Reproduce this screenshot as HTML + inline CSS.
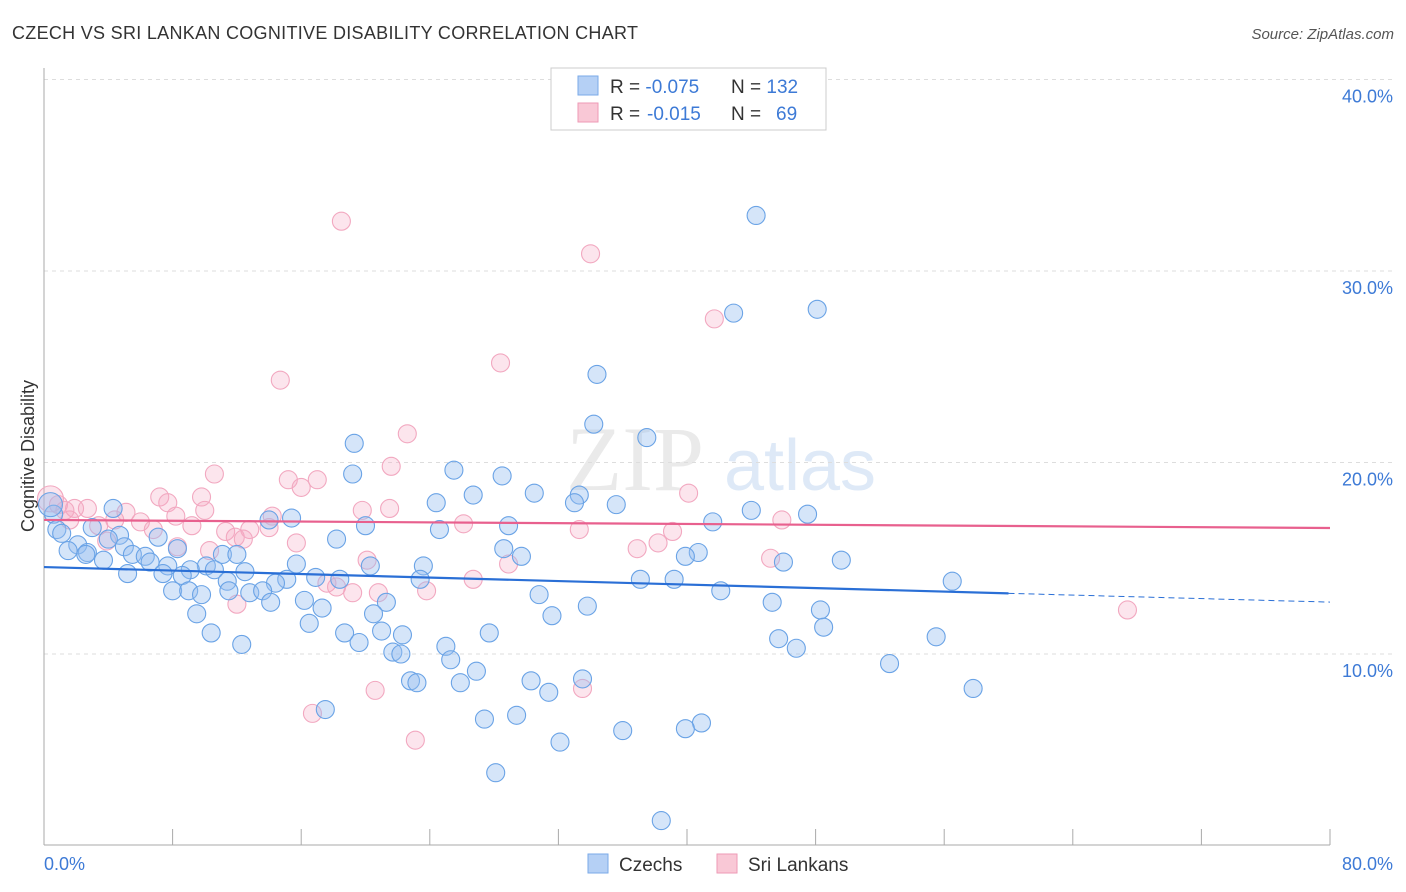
<!DOCTYPE html>
<html><head><meta charset="utf-8"><style>
body{margin:0;background:#fff;font-family:"Liberation Sans",sans-serif}
svg{display:block}
</style></head><body>
<svg id="c" width="1406" height="892">
<text x="12" y="39" font-size="18" fill="#333" textLength="626">CZECH VS SRI LANKAN COGNITIVE DISABILITY CORRELATION CHART</text>
<text x="1394" y="39" font-size="15" fill="#555" font-style="italic" text-anchor="end">Source: ZipAtlas.com</text>
<text transform="translate(34,456) rotate(-90)" font-size="18" fill="#333" text-anchor="middle">Cognitive Disability</text>
<g><text x="635" y="490" font-size="92" fill="#ddd" font-family="Liberation Serif" text-anchor="middle" opacity="0.6">ZIP</text><text x="800" y="490" font-size="72" fill="#c9dcf2" text-anchor="middle" opacity="0.6">atlas</text></g>
<g id="grid"></g><g id="axes"></g><g id="pts"></g><g id="trend"></g>
<g>
<rect x="551" y="68" width="275" height="62" fill="#fff" stroke="#ccc"/>
<rect x="578" y="76" width="20" height="19" fill="#b5d0f5" stroke="#7aaae8"/>
<rect x="578" y="103" width="20" height="19" fill="#f9c8d6" stroke="#ee9ab6"/>
<text x="610" y="93" font-size="19" fill="#333">R = <tspan fill="#3d7ad6">-0.075</tspan><tspan x="731">N = </tspan><tspan fill="#3d7ad6">132</tspan></text>
<text x="610" y="120" font-size="19" fill="#333">R = <tspan fill="#3d7ad6" x="647">-0.015</tspan><tspan x="731">N = </tspan><tspan fill="#3d7ad6" x="776">69</tspan></text>
</g>
<g>
<rect x="588" y="854" width="20" height="19" fill="#b5d0f5" stroke="#7aaae8"/>
<text x="619" y="871" font-size="19" fill="#333">Czechs</text>
<rect x="717" y="854" width="20" height="19" fill="#f9c8d6" stroke="#ee9ab6"/>
<text x="748" y="871" font-size="19" fill="#333">Sri Lankans</text>
</g>
<text x="44" y="870" font-size="18" fill="#3d7ad6">0.0%</text>
<text x="1393" y="870" font-size="18" fill="#3d7ad6" text-anchor="end">80.0%</text>
</svg>
<script>
const yTicks=[10,20,30,40];
const czX=[44.3,48.1,42.9,34.4,34.2,37.5,19.3,25.5,19.2,28.5,30.5,26.7,24.4,33.3,33.0,35.6,44.0,47.5,4.3,0.6,15.4,14.0,28.9,20.0,41.6,24.6,3.0,0.8,1.1,4.7,18.2,7.1,4.0,2.1,5.0,8.3,1.5,2.7,28.6,40.7,39.9,5.5,6.3,2.6,11.1,12.0,29.7,3.7,6.6,49.6,46.0,7.7,10.1,9.1,15.7,23.6,20.3,10.6,12.5,7.4,5.2,8.6,16.9,15.1,11.4,18.4,14.4,23.4,37.1,39.2,56.5,8.0,9.0,12.8,13.6,9.8,11.5,42.1,30.8,16.2,21.3,14.1,45.3,33.8,17.3,20.5,48.3,9.5,31.6,16.5,48.5,21.0,18.7,10.4,27.7,22.3,55.5,45.7,19.6,12.3,25.0,46.8,21.7,22.2,25.3,52.6,26.9,33.5,22.8,23.2,30.3,25.9,57.8,31.4,17.5,29.4,27.4,40.9,39.9,36.0,32.1,28.1,38.4,0.4];
const czY=[32.9,28.0,27.8,24.6,22.0,21.3,21.0,19.6,19.4,19.3,18.4,18.3,17.9,18.3,17.9,17.8,17.5,17.3,17.6,17.3,17.1,17.0,16.7,16.7,16.9,16.5,16.6,16.5,16.3,16.2,16.0,16.1,16.0,15.7,15.6,15.5,15.4,15.3,15.5,15.3,15.1,15.2,15.1,15.2,15.2,15.2,15.1,14.9,14.8,14.9,14.8,14.6,14.6,14.4,14.7,14.6,14.6,14.4,14.3,14.2,14.2,14.1,14.0,13.9,13.8,13.9,13.7,13.9,13.9,13.9,13.8,13.3,13.3,13.2,13.3,13.1,13.3,13.3,13.1,12.8,12.7,12.7,12.7,12.5,12.4,12.1,12.3,12.1,12.0,11.6,11.4,11.2,11.1,11.1,11.1,11.0,10.9,10.8,10.6,10.5,10.4,10.3,10.1,10.0,9.7,9.5,9.1,8.7,8.6,8.5,8.6,8.5,8.2,8.0,7.1,6.8,6.6,6.4,6.1,6.0,5.4,3.8,1.3,17.8];
const slX=[18.5,34.0,41.7,14.7,28.4,22.6,21.6,10.6,15.2,17.0,16.0,40.1,7.2,9.8,7.7,0.9,2.7,1.9,1.3,19.8,21.5,5.1,10.0,8.2,14.2,4.4,6.0,45.9,1.6,26.1,3.4,9.2,11.3,6.8,12.8,14.0,33.3,39.1,11.9,3.9,8.3,15.7,12.4,38.2,36.9,10.3,20.1,45.2,28.9,26.7,17.6,18.2,19.2,20.8,23.8,12.0,67.4,33.5,20.6,16.7,23.1,0.4];
const slY=[32.6,30.9,27.5,24.3,25.2,21.5,19.8,19.4,19.1,19.1,18.7,18.4,18.2,18.2,17.9,17.8,17.6,17.6,17.5,17.5,17.6,17.4,17.5,17.2,17.2,17.0,16.9,17.0,17.0,16.8,16.7,16.7,16.4,16.5,16.5,16.6,16.5,16.4,16.1,15.9,15.6,15.8,16.0,15.8,15.5,15.4,14.9,15.0,14.7,13.9,13.7,13.5,13.2,13.2,13.3,12.6,12.3,8.2,8.1,6.9,5.5,18.1];
const czTrend=[14.54,12.71];
const slTrend=[17.0,16.58];
const xs=v=>44+v/80*1286, ys=v=>845.5-v*19.15;
const NS='http://www.w3.org/2000/svg';
function mk(t,a,p){const e=document.createElementNS(NS,t);for(const k in a)e.setAttribute(k,a[k]);p.appendChild(e);return e;}
const grid=document.getElementById('grid'),axes=document.getElementById('axes'),pts=document.getElementById('pts'),tr=document.getElementById('trend');
yTicks.forEach(t=>{
 const l=mk('line',{x1:44,x2:1393,y1:ys(t),y2:ys(t),stroke:'#ddd','stroke-dasharray':'4,4'},grid);
 
 
 const tx=mk('text',{x:1393,y:ys(t)+23,'font-size':18,fill:'#3d7ad6','text-anchor':'end'},grid);
 tx.textContent=t.toFixed(1)+'%';
 
 
});
const ya=mk('line',{x1:44,x2:44,y1:68,y2:845,stroke:'#aaa'},axes);


const xa=mk('line',{x1:44,x2:1330,y1:845,y2:845,stroke:'#aaa'},axes);


for(let i=0;i<=10;i++){const tk=mk('line',{x1:xs(i*8),x2:xs(i*8),y1:829,y2:845,stroke:'#aaa'},axes);
 
 }
slX.forEach((x,i)=>{const c=mk('circle',{cx:xs(x),cy:ys(slY[i]),r:i==slX.length-1?13:9,fill:'rgba(245,170,195,0.3)',stroke:'#f2a8c0','stroke-width':1.1},pts);
 
 });
czX.forEach((x,i)=>{const c=mk('circle',{cx:xs(x),cy:ys(czY[i]),r:i==czX.length-1?12:9,fill:'rgba(150,190,240,0.4)',stroke:'#6aa3e6','stroke-width':1.1},pts);
 
 });
const cz=v=>czTrend[0]+(czTrend[1]-czTrend[0])*v/80;
const t1=mk('line',{x1:xs(0),y1:ys(cz(0)),x2:xs(60),y2:ys(cz(60)),stroke:'#2a6fd6','stroke-width':2.2},tr);


const t2=mk('line',{x1:xs(60),y1:ys(cz(60)),x2:xs(80),y2:ys(cz(80)),stroke:'#2a6fd6','stroke-width':1,'stroke-dasharray':'6,4'},tr);


const t3=mk('line',{x1:xs(0),y1:ys(slTrend[0]),x2:xs(80),y2:ys(slTrend[1]),stroke:'#e8608e','stroke-width':2.2},tr);


</script>
</body></html>
